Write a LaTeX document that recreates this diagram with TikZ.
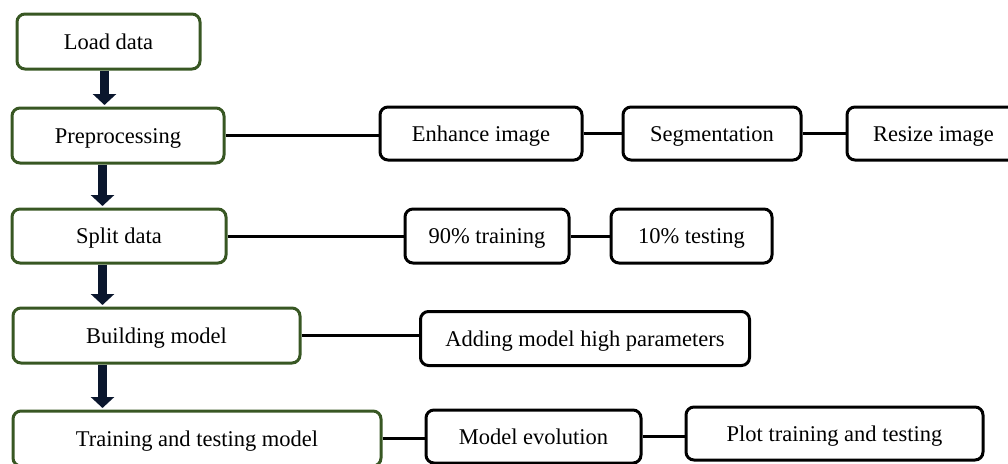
\documentclass[tikz,border=0pt]{standalone}
\usepackage{fontspec}
\setmainfont{Liberation Serif}
\usetikzlibrary{arrows.meta}
\definecolor{boxgreen}{RGB}{56,87,35}
\definecolor{arrownavy}{RGB}{10,22,45}
\tikzset{
  boxbase/.style={line width=3pt, rounded corners=8pt, fill=white,
    inner sep=0pt, text height=17pt, text depth=2pt,
    font=\fontsize{22.5}{26}\selectfont},
  stepbox/.style={boxbase, draw=boxgreen},
  subbox/.style={boxbase, draw=black},
  link/.style={draw=black, line width=3pt},
  bigarrow/.style={draw=arrownavy, line width=9.5pt, shorten >=1.5pt,
    -{Triangle[width=23pt,length=11pt]}, arrownavy}
}
\begin{document}
\begin{tikzpicture}[x=1pt,y=-1pt]
\useasboundingbox (0,0) rectangle (1008,463);
% left column
\node[stepbox, minimum width=183pt, minimum height=55pt] (load) at (108.5,41.5) {Load data};
\node[stepbox, minimum width=212pt, minimum height=55pt] (pre) at (118,135.5) {Preprocessing};
\node[stepbox, minimum width=214pt, minimum height=54pt] (split) at (119,236) {Split data};
\node[stepbox, minimum width=287pt, minimum height=55pt] (build) at (156.5,335.5) {Building model};
\node[stepbox, minimum width=368pt, minimum height=55pt] (train) at (197,438.5) {Training and testing model};
% right boxes
\node[subbox, minimum width=202pt, minimum height=53pt] (enh) at (481,133.5) {Enhance image};
\node[subbox, minimum width=178pt, minimum height=53pt] (seg) at (712,133.5) {Segmentation};
\node[subbox, minimum width=173pt, minimum height=53pt] (res) at (933.5,133.5) {Resize image};
\node[subbox, minimum width=164pt, minimum height=54pt] (p90) at (487,236) {90\% training};
\node[subbox, minimum width=161pt, minimum height=54pt] (p10) at (691.5,236) {10\% testing};
\node[subbox, minimum width=329pt, minimum height=54pt] (add) at (585,338.5) {Adding model high parameters};
\node[subbox, minimum width=215pt, minimum height=53pt] (evo) at (533.5,436.5) {Model evolution};
\node[subbox, minimum width=297pt, minimum height=53pt] (plot) at (834.5,433.5) {Plot training and testing};
% connectors
\draw[link] (pre.east) -- (pre.east -| enh.west);
\draw[link] (enh.east) -- (seg.west);
\draw[link] (seg.east) -- (res.west);
\draw[link] (split.east) -- (split.east -| p90.west);
\draw[link] (p90.east) -- (p10.west);
\draw[link] (build.east) -- (build.east -| add.west);
\draw[link] (train.east) -- (train.east -| evo.west);
\draw[link] (evo.east) -- (evo.east -| plot.west);
% arrows
\coordinate (ax1) at (104.5,0);
\coordinate (ax2) at (102.5,0);
\draw[bigarrow] (load.south -| ax1) -- (pre.north -| ax1);
\draw[bigarrow] (pre.south -| ax2) -- (split.north -| ax2);
\draw[bigarrow] (split.south -| ax2) -- (build.north -| ax2);
\draw[bigarrow] (build.south -| ax2) -- (train.north -| ax2);
\end{tikzpicture}
\end{document}
